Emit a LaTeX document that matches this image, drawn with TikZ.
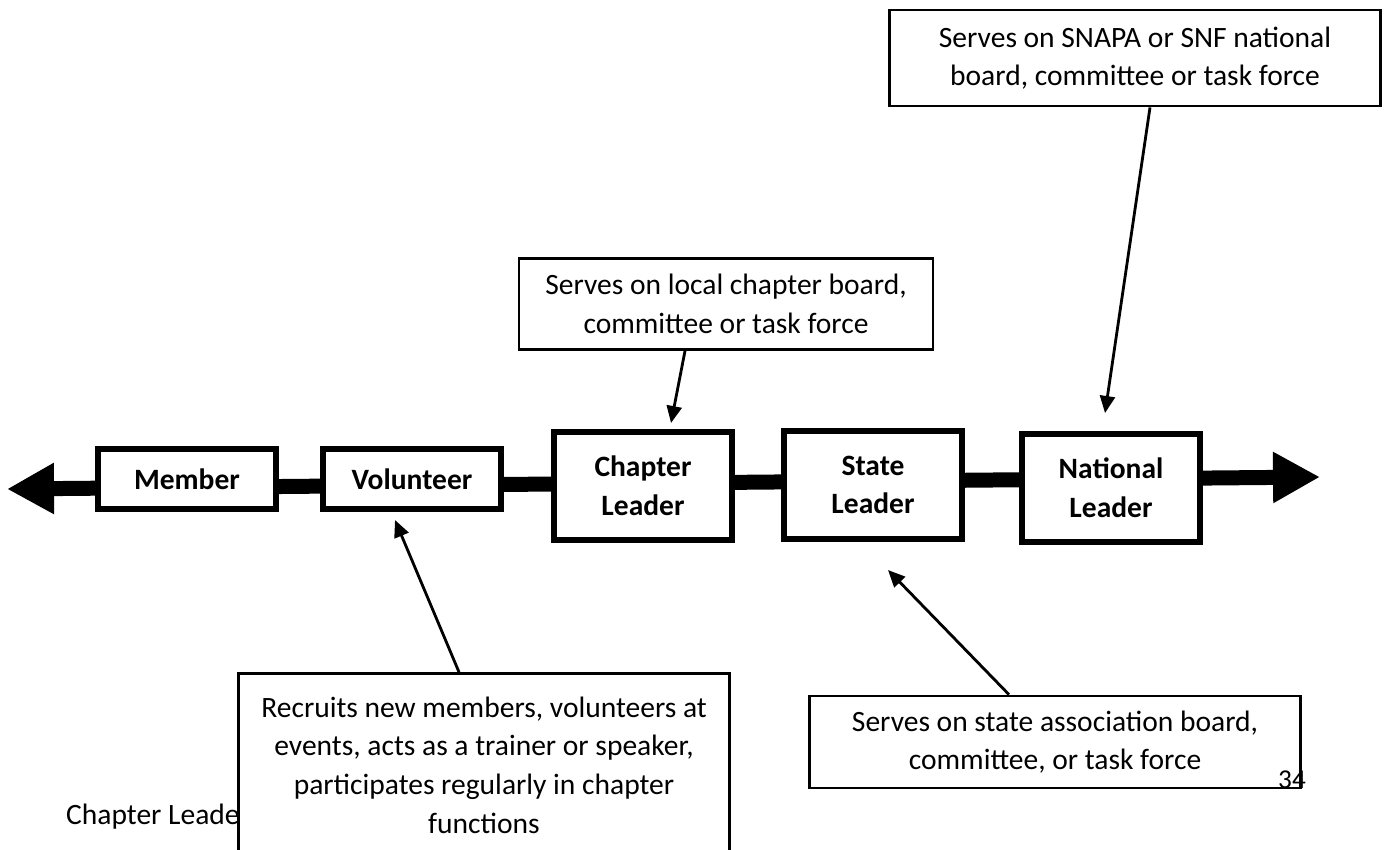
\documentclass[tikz,border=0pt]{standalone}
\usepackage{fontspec}
\setmainfont{Carlito}
\usetikzlibrary{arrows.meta,calc}

\begin{document}
\begin{tikzpicture}[
    x=0.02cm, y=-0.02cm,
    stagebox/.style={draw, line width=3.2pt, fill=white, align=center, inner sep=0pt,
      font=\bfseries\fontsize{16.8}{22}\selectfont, minimum width=3.56cm},
    notebox/.style={draw, line width=1.6pt, fill=white, align=center, inner sep=0pt,
      font=\fontsize{16.8}{22}\selectfont, minimum width=9.82cm},
    spine/.style={line width=0.3cm,
      {Triangle[length=0.94cm,width=0.96cm]}-{Triangle[length=0.94cm,width=0.96cm]}},
    pointer/.style={line width=1.6pt, -{Triangle[length=0.34cm,width=0.3cm]}}
    ]
\useasboundingbox (0,0) rectangle (1388,849);
\clip (0,0) rectangle (1388,849);

% the line of stages
\coordinate (leftEnd) at (7,489);
\coordinate (rightEnd) at (1320,477);
\draw[spine] (leftEnd) -- (rightEnd);

\node[stagebox, minimum height=1.2cm] (member) at (187,479) {Member};
\node[stagebox, minimum height=1.2cm] (volunteer) at (412,479) {Volunteer};
\node[stagebox, minimum height=2.16cm] (chapter) at (643,486) {Chapter\\Leader};
\node[stagebox, minimum height=2.16cm] (state) at (873,485) {State\\Leader};
\node[stagebox, minimum height=2.16cm] (national) at (1111,488) {National\\Leader};

% footer
\node[anchor=west, font=\fontsize{16.8}{22}\selectfont] (footer) at (60,817) {Chapter Leader};

% roles
\node[notebox, minimum height=1.92cm] (national board) at (1135,58)
  {Serves on SNAPA or SNF national\\board, committee or task force};
\node[notebox, minimum width=8.28cm, minimum height=1.82cm] (chapter board) at (726,304)
  {Serves on local chapter board,\\committee or task force};
\node[notebox, minimum height=3.66cm] (volunteer work) at (484,765)
  {Recruits new members, volunteers at\\events, acts as a trainer or speaker,\\participates regularly in chapter\\functions};
\node[notebox, minimum height=1.84cm] (state board) at (1055,742)
  {Serves on state association board,\\committee, or task force};
\node[font=\fontsize{15.5}{18}\selectfont] (pagenum) at (1292,780) {34};

\coordinate (nationalTip) at (1105,413);
\coordinate (chapterTip) at (671,423);
\coordinate (volunteerTip) at (395,520);
\coordinate (stateTip) at (888,570);

\draw[pointer] ($(national board.south)+(15,0)$) -- (nationalTip);
\draw[pointer] ($(chapter board.south)+(-41,0)$) -- (chapterTip);
\draw[pointer] ($(volunteer work.north)+(-25,0)$) -- (volunteerTip);
\draw[pointer] ($(state board.north)+(-46,0)$) -- (stateTip);
\end{tikzpicture}
\end{document}
